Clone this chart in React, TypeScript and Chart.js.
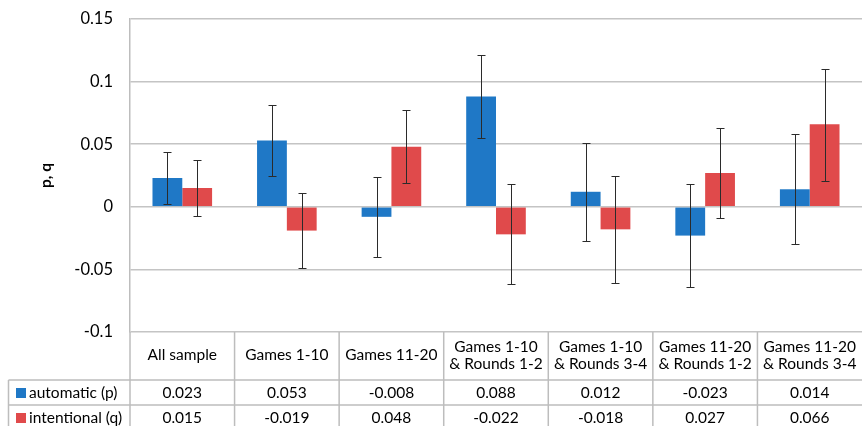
import React, { useEffect, useRef } from "react";
import { Chart, registerables } from "chart.js";

Chart.register(...registerables);

const categories: string[][] = [
  ["All sample"],
  ["Games 1-10"],
  ["Games 11-20"],
  ["Games 1-10", "& Rounds 1-2"],
  ["Games 1-10", "& Rounds 3-4"],
  ["Games 11-20", "& Rounds 1-2"],
  ["Games 11-20", "& Rounds 3-4"],
];
const automaticP = [0.023, 0.053, -0.008, 0.088, 0.012, -0.023, 0.014];
const intentionalQ = [0.015, -0.019, 0.048, -0.022, -0.018, 0.027, 0.066];
const autoLow = [0.002, 0.025, -0.04, 0.055, -0.027, -0.064, -0.03];
const autoHigh = [0.044, 0.081, 0.024, 0.121, 0.051, 0.018, 0.058];
const intLow = [-0.007, -0.049, 0.019, -0.062, -0.061, -0.009, 0.021];
const intHigh = [0.037, 0.011, 0.077, 0.018, 0.025, 0.063, 0.11];
const tableP = ["0.023", "0.053", "-0.008", "0.088", "0.012", "-0.023", "0.014"];
const tableQ = ["0.015", "-0.019", "0.048", "-0.022", "-0.018", "0.027", "0.066"];
const yTicks = [0.15, 0.1, 0.05, 0, -0.05, -0.1];
const yTickLabels = ["0.15", "0.1", "0.05", "0", "-0.05", "-0.1"];
const seriesNames = ["automatic (p)", "intentional (q)"];

const BLUE = "#1f78c6";
const RED = "#e04a4b";
const FONT = "Lato, 'Open Sans', sans-serif";

export default function App() {
  const ref = useRef<HTMLCanvasElement>(null);
  useEffect(() => {
    document.body.style.margin = "0";
    const canvas = ref.current!;
    const lows = [autoLow, intLow];
    const highs = [autoHigh, intHigh];

    const overlay = {
      id: "overlay",
      afterDatasetsDraw(chart: any) {
        const ctx = chart.ctx;
        const y = chart.scales.y;
        ctx.save();
        ctx.strokeStyle = "#2b2b2b";
        ctx.lineWidth = 1;
        for (let d = 0; d < 2; d++) {
          const meta = chart.getDatasetMeta(d);
          meta.data.forEach((bar: any, i: number) => {
            const x = Math.round(bar.x) + 0.5;
            const yl = Math.round(y.getPixelForValue(lows[d][i])) + 0.5;
            const yh = Math.round(y.getPixelForValue(highs[d][i])) + 0.5;
            ctx.beginPath();
            ctx.moveTo(x, yl);
            ctx.lineTo(x, yh);
            ctx.moveTo(x - 4, yl);
            ctx.lineTo(x + 4, yl);
            ctx.moveTo(x - 4, yh);
            ctx.lineTo(x + 4, yh);
            ctx.stroke();
          });
        }
        ctx.restore();
      },
      afterDraw(chart: any) {
        const ctx = chart.ctx;
        const ca = chart.chartArea;
        const x = chart.scales.x;
        const n = categories.length;
        const colW = (ca.right - ca.left) / n;
        const top = ca.bottom;
        const r1 = top + 48;
        const r2 = r1 + 25;
        const bottom = chart.height;
        const legendLeft = 8.5;
        ctx.save();
        ctx.strokeStyle = "#bdbdbd";
        ctx.lineWidth = 1.5;
        ctx.beginPath();
        for (let i = 0; i < n; i++) {
          const vx = ca.left + i * colW;
          ctx.moveTo(vx, top);
          ctx.lineTo(vx, bottom);
        }
        ctx.moveTo(legendLeft, r1);
        ctx.lineTo(legendLeft, bottom);
        ctx.moveTo(legendLeft, r1);
        ctx.lineTo(ca.right, r1);
        ctx.moveTo(legendLeft, r2);
        ctx.lineTo(ca.right, r2);
        ctx.stroke();

        ctx.fillStyle = "#000";
        ctx.font = `15.5px ${FONT}`;
        ctx.textAlign = "center";
        ctx.textBaseline = "middle";
        categories.forEach((lines, i) => {
          const cx = x.getPixelForValue(i);
          if (lines.length === 1) {
            ctx.fillText(lines[0], cx, top + 23);
          } else {
            ctx.fillText(lines[0], cx, top + 15);
            ctx.fillText(lines[1], cx, top + 32);
          }
          ctx.fillText(tableP[i], cx, r1 + 12.5);
          ctx.fillText(tableQ[i], cx, r2 + 12.5);
        });
        ctx.textAlign = "left";
        ctx.fillStyle = BLUE;
        ctx.fillRect(16, r1 + 8, 10, 10);
        ctx.fillStyle = RED;
        ctx.fillRect(16, r2 + 8, 10, 10);
        ctx.fillStyle = "#000";
        ctx.fillText(seriesNames[0], 29, r1 + 12.5);
        ctx.fillText(seriesNames[1], 29, r2 + 12.5);

        ctx.font = `bold 15.5px ${FONT}`;
        ctx.textAlign = "center";
        ctx.translate(46, (ca.top + ca.bottom) / 2);
        ctx.rotate(-Math.PI / 2);
        ctx.fillText("p, q", 0, 0);
        ctx.restore();
      },
    };

    const chart = new Chart(canvas, {
      type: "bar",
      data: {
        labels: categories.map((c) => c.join(" ")),
        datasets: [
          { label: seriesNames[0], data: automaticP, backgroundColor: BLUE },
          { label: seriesNames[1], data: intentionalQ, backgroundColor: RED },
        ],
      },
      options: {
        animation: false,
        responsive: false,
        layout: { padding: { top: 19, bottom: 94, right: 1, left: 0 } },
        plugins: { legend: { display: false }, tooltip: { enabled: false } },
        datasets: { bar: { categoryPercentage: 0.57, barPercentage: 1 } } as any,
        scales: {
          x: {
            display: false,
          },
          y: {
            min: -0.1,
            max: 0.15,
            afterFit(scale: any) {
              scale.width = 130;
              scale.paddingTop = 10;
              scale.paddingBottom = 10;
            },
            afterBuildTicks(scale: any) {
              scale.ticks = yTicks.map((v) => ({ value: v }));
            },
            ticks: {
              padding: 17,
              color: "#000",
              font: { family: FONT, size: 16.5 },
              callback: (v: any) => {
                const i = yTicks.findIndex((t) => Math.abs(t - v) < 1e-9);
                return i >= 0 ? yTickLabels[i] : "";
              },
            },
            grid: { color: "#c4c4c4", lineWidth: 1.5, drawTicks: false },
            border: { display: true, color: "#bdbdbd", width: 1.5 },
          },
        },
      },
      plugins: [overlay],
    });
    return () => chart.destroy();
  }, []);
  return <canvas ref={ref} width={863} height={426} style={{ display: "block" }} />;
}
